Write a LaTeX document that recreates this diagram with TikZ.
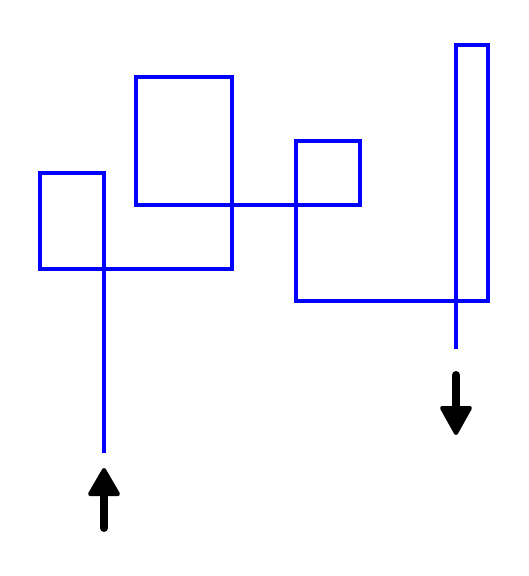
\documentclass[tikz,border=0pt]{standalone}
\begin{document}
\begin{tikzpicture}[x=1pt,y=-1pt,
  wire/.style={draw=blue,line width=3.5pt,line join=miter},
  shaft/.style={draw=black,line width=8pt,line cap=round},
  head/.style={draw=black,fill=black,line width=4pt,line join=round}]
\useasboundingbox (0,0) rectangle (528,576);
\draw[wire] (104,453) -- (104,173) -- (40,173) -- (40,269) -- (232,269) -- (232,77)
  -- (136,77) -- (136,205) -- (360,205) -- (360,141) -- (296,141) -- (296,301)
  -- (488,301) -- (488,45) -- (456,45) -- (456,349);
% up arrow
\draw[shaft] (104,528) -- (104,494);
\draw[head] (90,494) -- (118,494) -- (104,470) -- cycle;
% down arrow
\draw[shaft] (456,375) -- (456,408);
\draw[head] (442,408) -- (470,408) -- (456,433) -- cycle;
\end{tikzpicture}
\end{document}
